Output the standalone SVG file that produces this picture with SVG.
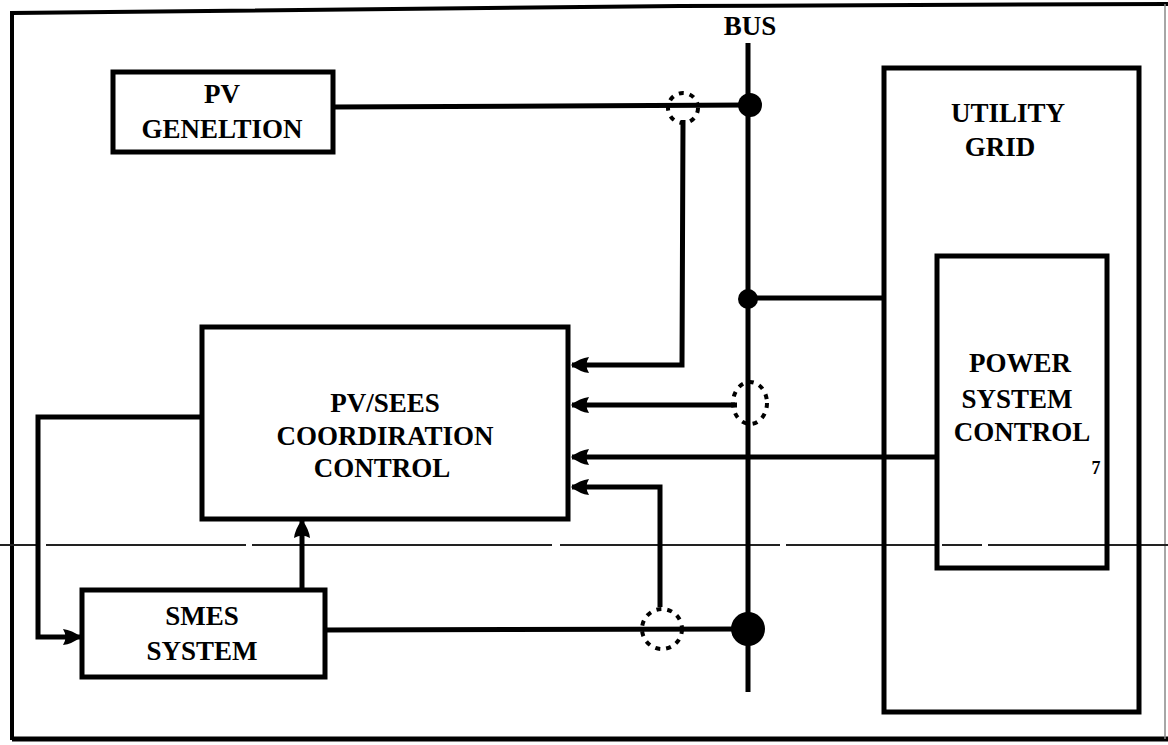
<svg xmlns="http://www.w3.org/2000/svg" width="1168" height="745" viewBox="0 0 1168 745">
<style>
.box{fill:none;stroke:#000;stroke-width:5}
.ln{fill:none;stroke:#000;stroke-width:5}
.sens{fill:none;stroke:#000;stroke-width:4;stroke-dasharray:5 6}
.t{font-family:"Liberation Serif","Times New Roman",serif;font-weight:bold;font-size:27px;text-anchor:middle;fill:#000}
</style>
<defs>
<marker id="ah" viewBox="0 0 18 18" refX="17" refY="9" markerWidth="18" markerHeight="18" markerUnits="userSpaceOnUse" orient="auto">
<path d="M0,1 Q9,2 18,9 Q9,16 0,17 Q5,9 0,1 Z" fill="#000"/>
</marker>
</defs>
<g id="frame">
<polyline points="12,740 12,13 680,6 1168,4" fill="none" stroke="#000" stroke-width="4"/>
<line x1="12" y1="739" x2="1168" y2="739" stroke="#000" stroke-width="5"/>
<line x1="1165" y1="4" x2="1165" y2="739" stroke="#888" stroke-width="1.5"/>
</g>
<line x1="0" y1="545" x2="1168" y2="545" stroke="#222" stroke-width="2" stroke-dasharray="40 6 200 6 300 8 220 6 150 6"/>
<g id="bus">
<line class="ln" x1="748" y1="43" x2="748" y2="692"/>
<text class="t" x="750" y="35">BUS</text>
<circle cx="750" cy="105" r="12" fill="#000"/>
<circle cx="748" cy="299" r="10" fill="#000"/>
<circle cx="748" cy="629" r="17" fill="#000"/>
</g>
<g id="pv">
<rect class="box" x="113" y="72" width="220" height="80"/>
<text class="t" x="222" y="103">PV</text>
<text class="t" x="222" y="138">GENELTION</text>
</g>
<g id="cc">
<rect class="box" x="202" y="327" width="366" height="192"/>
<text class="t" x="385" y="412">PV/SEES</text>
<text class="t" x="385" y="445">COORDIRATION</text>
<text class="t" x="382" y="477">CONTROL</text>
</g>
<g id="smes">
<rect class="box" x="82" y="590" width="243" height="87"/>
<text class="t" x="202" y="625">SMES</text>
<text class="t" x="202" y="660">SYSTEM</text>
</g>
<g id="grid">
<rect class="box" x="884" y="68" width="255" height="644"/>
<text class="t" x="1008" y="122">UTILITY</text>
<text class="t" x="1000" y="156">GRID</text>
</g>
<g id="psc">
<rect class="box" x="937" y="256" width="170" height="312"/>
<text class="t" x="1020" y="372">POWER</text>
<text class="t" x="1017" y="408">SYSTEM</text>
<text class="t" x="1022" y="441">CONTROL</text>
<text class="t" x="1096" y="474" style="font-size:18px">7</text>
</g>
<g id="sensors">
<circle class="sens" cx="683" cy="108" r="15"/>
<ellipse class="sens" cx="750" cy="403" rx="17" ry="21"/>
<circle class="sens" cx="662" cy="629" r="20"/>
</g>
<g id="connectors">
<line class="ln" x1="333" y1="107" x2="748" y2="105"/>
<line class="ln" x1="748" y1="298" x2="884" y2="298"/>
<line class="ln" x1="325" y1="630" x2="748" y2="629"/>
<polyline class="ln" points="683,120 682,365 572,365" marker-end="url(#ah)"/>
<polyline class="ln" points="737,405 572,405" marker-end="url(#ah)"/>
<polyline class="ln" points="937,457 572,457" marker-end="url(#ah)"/>
<polyline class="ln" points="660,607 660,487 572,487" marker-end="url(#ah)"/>
<polyline class="ln" points="302,590 302,521" marker-end="url(#ah)"/>
<polyline class="ln" points="202,417 38,417 38,637 80,637" marker-end="url(#ah)"/>
</g>
</svg>
